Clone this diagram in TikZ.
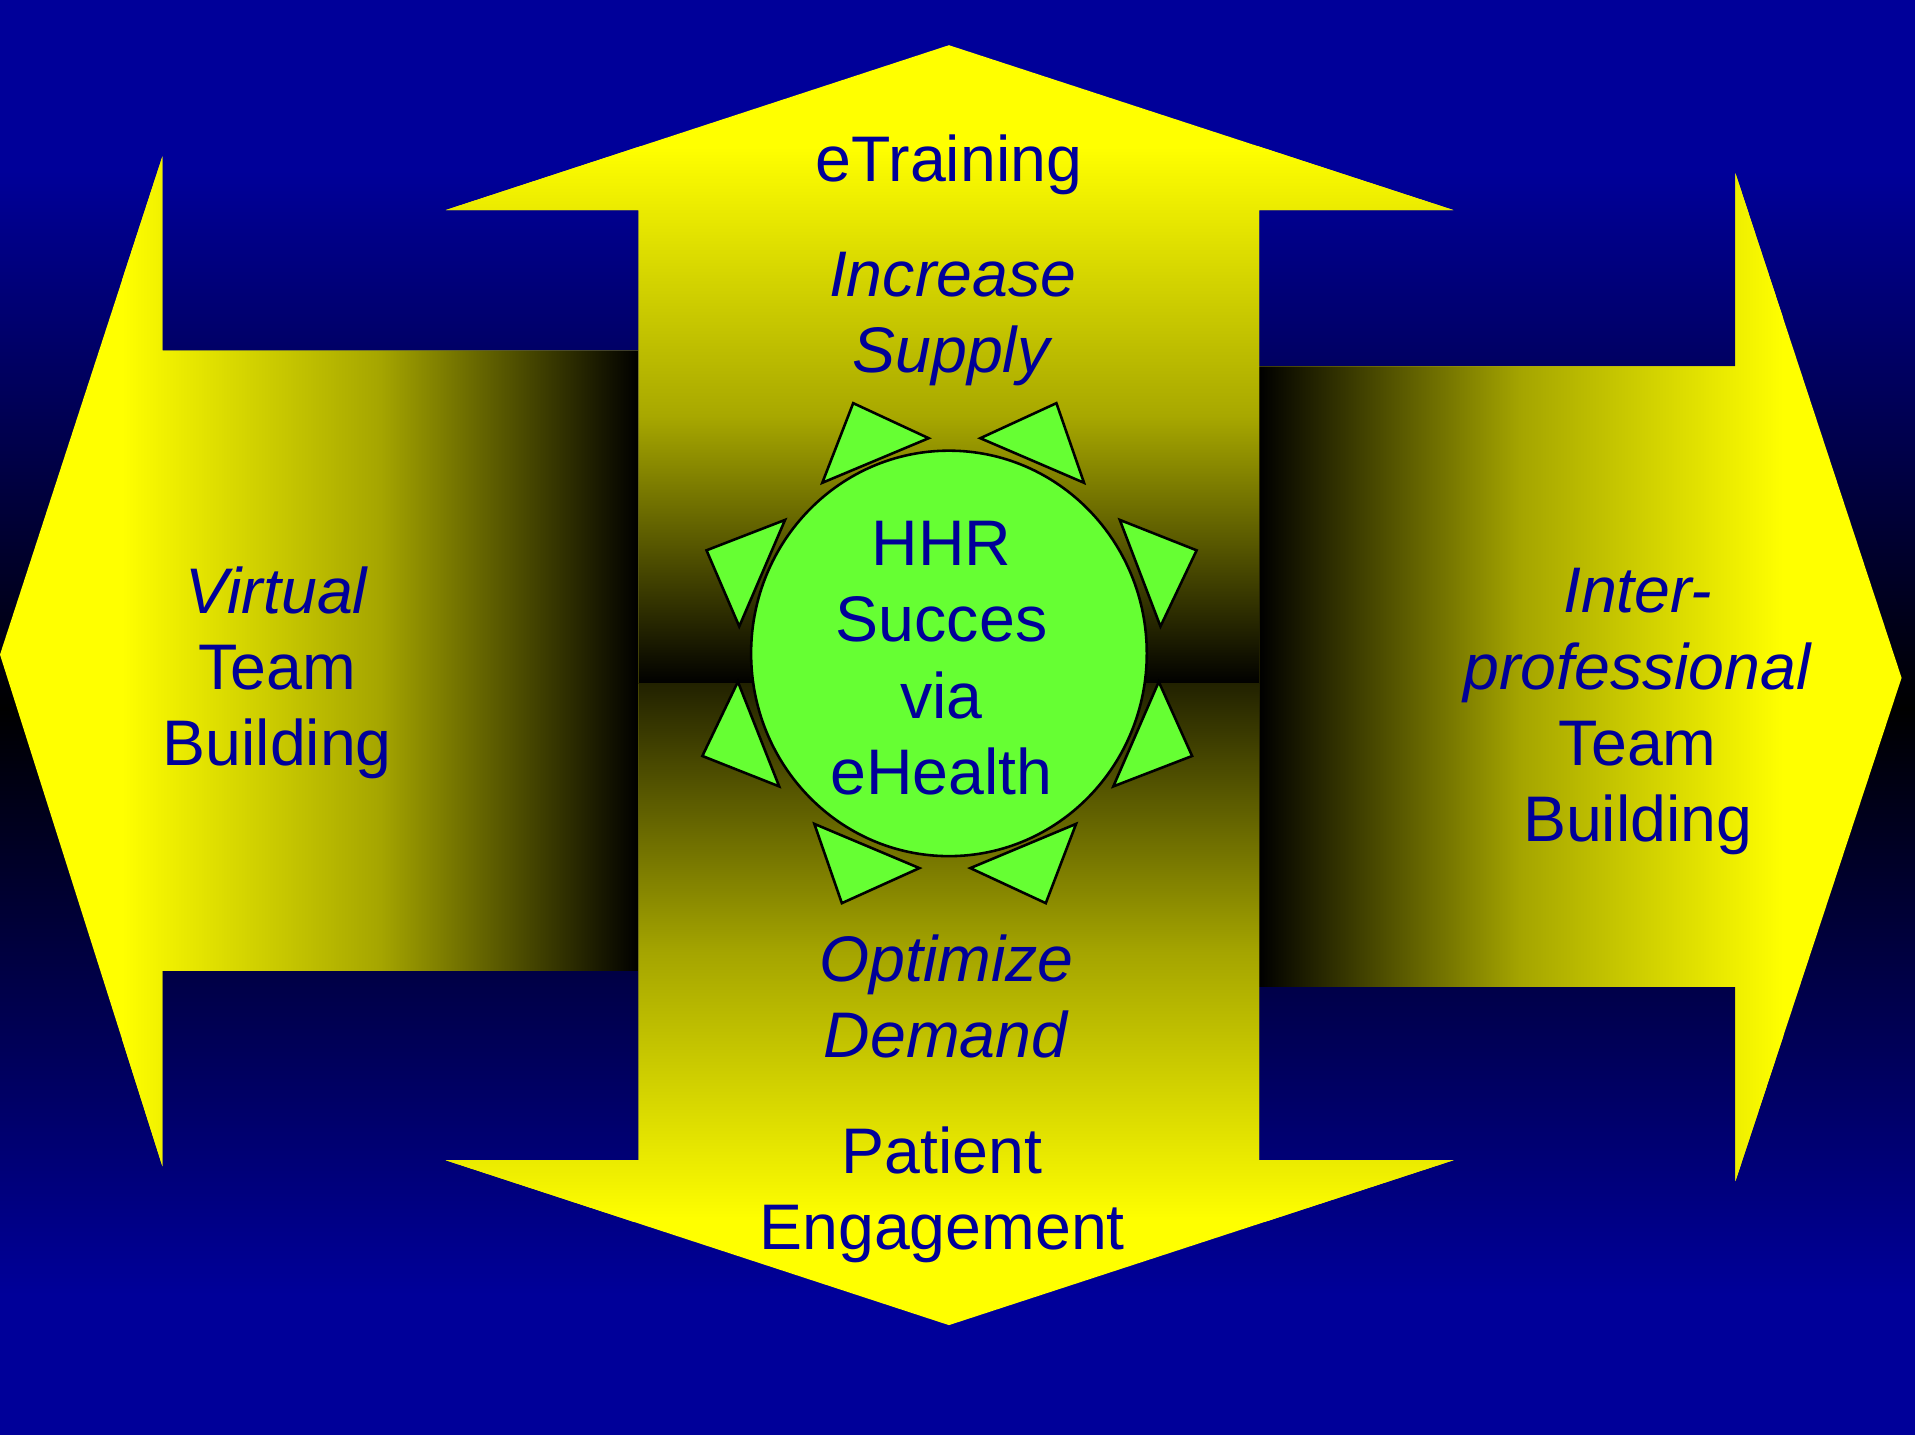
\documentclass[tikz,border=0pt]{standalone}
\usepackage{fontspec}
\setmainfont{Liberation Sans}
\usetikzlibrary{positioning}
\definecolor{hblue}{RGB}{0,0,153}
\definecolor{hyellow}{RGB}{255,255,0}
\definecolor{holive}{RGB}{34,34,0}
\definecolor{hmidup}{RGB}{168,168,0}
\definecolor{hmiddown}{RGB}{165,165,0}
\definecolor{hmidside}{RGB}{165,165,0}
\definecolor{hgreen}{RGB}{102,255,51}

\tikzset{
  txt/.style={anchor=base,align=center,text=hblue,inner sep=0pt,font=\fontsize{15pt}{17.75pt}\selectfont},
  ray/.style={draw=black,fill=hgreen,line width=0.6pt,line join=miter},
}

\begin{document}
\begin{tikzpicture}[x=0.01cm,y=-0.01cm]
\useasboundingbox (0,0) rectangle (1568,1175);

%background
\fill[hblue] (0,0) rectangle (1568,1175);
\shade[top color=hblue,bottom color=black] (0,140) rectangle (1568,580);
\shade[top color=black,bottom color=hblue] (0,580) rectangle (1568,1060);

%left arrow
\begin{scope}
\clip (0,536) -- (133,128) -- (133,287) -- (523,287) -- (523,795) -- (133,795) -- (133,955) -- cycle;
\fill[hyellow] (0,100) rectangle (523,980);
\shade[left color=hyellow,right color=black,middle color=hmidside] (100,100) rectangle (523,980);
\end{scope}

%right arrow
\begin{scope}
\clip (1557,555) -- (1421,142) -- (1421,300) -- (1031,300) -- (1031,808) -- (1421,808) -- (1421,967) -- cycle;
\fill[hyellow] (1031,100) rectangle (1568,1000);
\shade[left color=black,right color=hyellow,middle color=hmidside] (1031,100) rectangle (1460,1000);
\end{scope}

%up/down arrow
\begin{scope}
\clip (777,37) -- (1190,172) -- (1031,172) -- (1031,950) -- (1190,950) -- (777,1085) -- (365,950) -- (523,950) -- (523,172) -- (365,172) -- cycle;
\fill[hyellow] (300,0) rectangle (1250,1100);
\shade[top color=hyellow,bottom color=black,middle color=hmidup] (300,120) rectangle (1250,560);
\shade[top color=holive,bottom color=hyellow,middle color=hmiddown] (300,560) rectangle (1250,1000);
\end{scope}

%sun
\draw[ray] (777,535) ellipse [x radius=162,y radius=166];

\draw[ray] (698.6,330.1) -- (760.4,358.8) -- (673.3,395.3) -- cycle;
\draw[ray] (865.0,330.1) -- (802.7,358.8) -- (887.6,395.3) -- cycle;
\draw[ray] (642.8,425.7) -- (578.5,450.6) -- (605.3,512.9) -- cycle;
\draw[ray] (916.9,425.7) -- (979.8,450.6) -- (950.2,512.9) -- cycle;
\draw[ray] (604.2,558.2) -- (575.1,619.0) -- (638.0,643.9) -- cycle;
\draw[ray] (948.8,558.2) -- (976.1,619.0) -- (911.6,643.9) -- cycle;
\draw[ray] (666.8,674.6) -- (752.8,710.8) -- (689.3,739.5) -- cycle;
\draw[ray] (881.1,674.6) -- (794.5,710.8) -- (856.3,739.5) -- cycle;

%texts (base = last line)
\node[txt] (etraining) at (777,148.7) {eTraining};
\node[txt] (supply) at (780,305) {\textit{Increase}\\\textit{Supply}};
\node[txt] (hhr) at (771,650.4) {HHR\\Succes\\via\\eHealth};
\node[txt] (demand) at (775,866) {\textit{Optimize}\\\textit{Demand}};
\node[txt] (patient) at (771.5,1023) {Patient\\Engagement};
\node[txt] (virtual) at (227,627) {\textit{Virtual}\\Team\\Building};
\node[txt] (interprof) at (1341,689) {\textit{Inter-}\\\textit{professional}\\Team\\Building};

\end{tikzpicture}
\end{document}
